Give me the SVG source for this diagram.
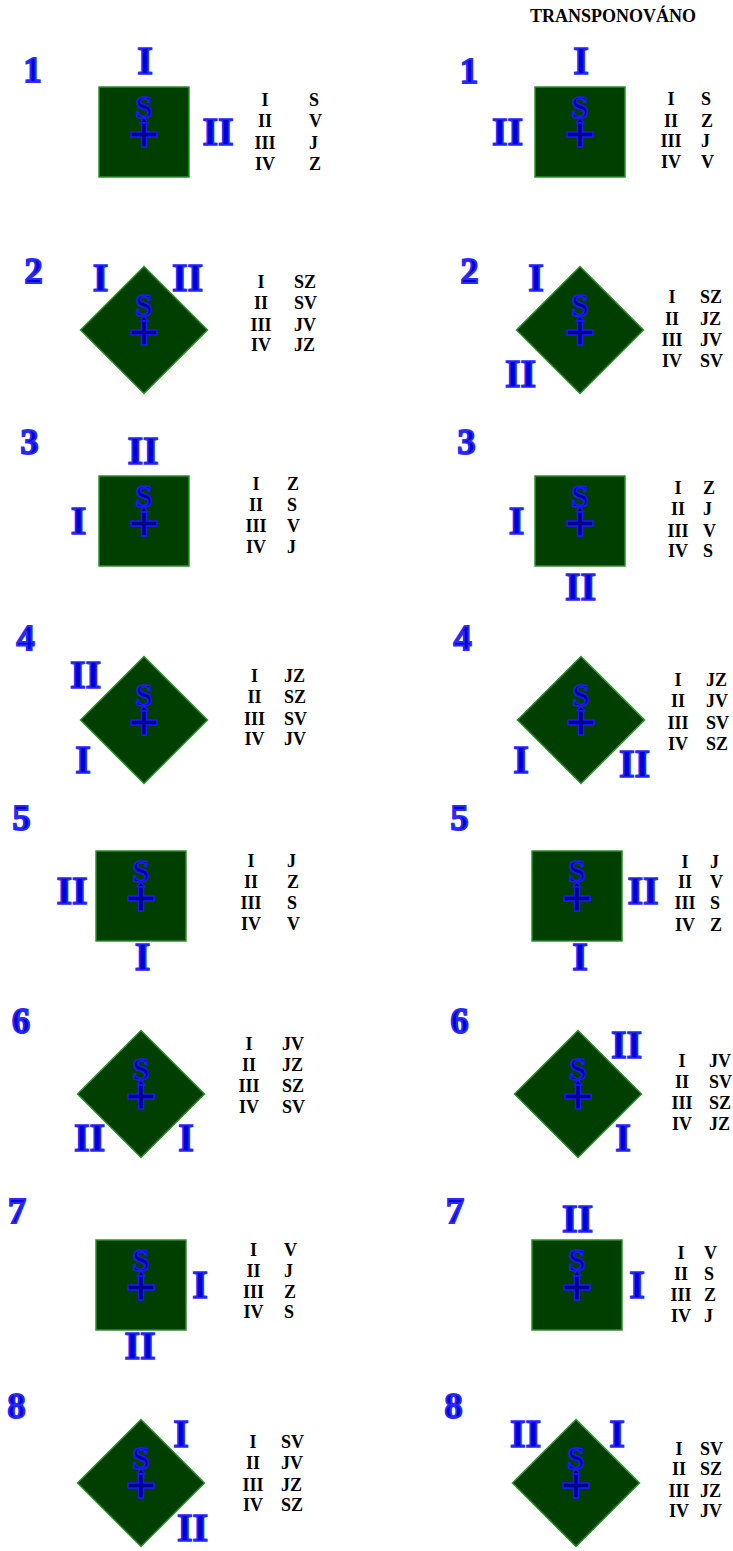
<svg xmlns="http://www.w3.org/2000/svg" xmlns:xlink="http://www.w3.org/1999/xlink" width="733" height="1551" viewBox="0 0 733 1551">
<style>
.sq{fill:#003f00;stroke:#2b8f2b;stroke-width:1.5}
.lab{font-family:"Liberation Serif","Times New Roman",serif;font-weight:bold;font-size:40px;fill:#0000d8;stroke:#2a2aff;stroke-width:1.6;text-anchor:middle}
.num{font-family:"Liberation Serif","Times New Roman",serif;font-weight:bold;font-size:36px;fill:#0000d8;stroke:#2a2aff;stroke-width:2;text-anchor:middle}
.s{font-family:"Liberation Serif","Times New Roman",serif;font-weight:bold;font-size:31px;fill:#000090;stroke:#1a1aff;stroke-width:1.5;text-anchor:middle}
.t{font-family:"Liberation Serif","Times New Roman",serif;font-weight:bold;font-size:18px;fill:#000}
.tn{text-anchor:middle}
.title{font-family:"Liberation Serif","Times New Roman",serif;font-weight:bold;font-size:18px;fill:#000}
</style>
<defs>
<g id="cross">
<polygon points="0,-14 -4,-9 4,-9" fill="#000090" stroke="#1a1aff" stroke-width="1.2"/>
<path d="M-2.5,-9 H2.5 V0 H13 V5 H2.5 V15 H-2.5 V5 H-13 V0 H-2.5 Z" fill="#000090" stroke="#1a1aff" stroke-width="1.5"/>
</g>
</defs>
<rect width="733" height="1551" fill="#fff"/>
<text class="title" x="530" y="22">TRANSPONOVÁNO</text>

<g id="p1L">
<text class="num" x="32.5" y="82">1</text>
<rect class="sq" x="99" y="87" width="90" height="90"/>
<text class="s" x="144" y="118">S</text><use xlink:href="#cross" x="144" y="132"/>
<text class="lab" x="145" y="74">I</text>
<text class="lab" x="218" y="145">II</text>
<text class="t tn" x="265" y="106">I</text><text class="t tn" x="265" y="127">II</text><text class="t tn" x="265" y="149">III</text><text class="t tn" x="265" y="170">IV</text>
<text class="t" x="309" y="106">S</text><text class="t" x="309" y="127">V</text><text class="t" x="309" y="149">J</text><text class="t" x="309" y="170">Z</text>
</g>
<g id="p1R">
<text class="num" x="469" y="83">1</text>
<rect class="sq" x="535" y="87" width="90" height="90"/>
<text class="s" x="580" y="118">S</text><use xlink:href="#cross" x="580" y="132"/>
<text class="lab" x="581" y="74">I</text>
<text class="lab" x="507.5" y="145">II</text>
<text class="t tn" x="671" y="105">I</text><text class="t tn" x="671" y="127">II</text><text class="t tn" x="671" y="147">III</text><text class="t tn" x="671" y="168">IV</text>
<text class="t" x="701" y="105">S</text><text class="t" x="701" y="127">Z</text><text class="t" x="701" y="147">J</text><text class="t" x="701" y="168">V</text>
</g>

<g id="p2L">
<text class="num" x="33.5" y="283">2</text>
<polygon class="sq" points="144,266.5 207.5,330 144,393.5 80.5,330"/>
<text class="s" x="144" y="316">S</text><use xlink:href="#cross" x="144" y="330"/>
<text class="lab" x="100.5" y="291">I</text>
<text class="lab" x="187.5" y="291">II</text>
<text class="t tn" x="261" y="288">I</text><text class="t tn" x="261" y="309">II</text><text class="t tn" x="261" y="331">III</text><text class="t tn" x="261" y="351">IV</text>
<text class="t" x="294" y="288">SZ</text><text class="t" x="294" y="309">SV</text><text class="t" x="294" y="331">JV</text><text class="t" x="294" y="351">JZ</text>
</g>
<g id="p2R">
<text class="num" x="469.5" y="283">2</text>
<polygon class="sq" points="580,266.5 643.5,330 580,393.5 516.5,330"/>
<text class="s" x="580" y="316">S</text><use xlink:href="#cross" x="580" y="330"/>
<text class="lab" x="536" y="291">I</text>
<text class="lab" x="520.5" y="387">II</text>
<text class="t tn" x="672" y="303">I</text><text class="t tn" x="672" y="325">II</text><text class="t tn" x="672" y="346">III</text><text class="t tn" x="672" y="367">IV</text>
<text class="t" x="700" y="303">SZ</text><text class="t" x="700" y="325">JZ</text><text class="t" x="700" y="346">JV</text><text class="t" x="700" y="367">SV</text>
</g>

<g id="p3L">
<text class="num" x="29.5" y="454">3</text>
<rect class="sq" x="99" y="476" width="90" height="90"/>
<text class="s" x="144" y="507">S</text><use xlink:href="#cross" x="144" y="521"/>
<text class="lab" x="143" y="464">II</text>
<text class="lab" x="78.5" y="534">I</text>
<text class="t tn" x="256" y="490">I</text><text class="t tn" x="256" y="511">II</text><text class="t tn" x="256" y="532">III</text><text class="t tn" x="256" y="553">IV</text>
<text class="t" x="287" y="490">Z</text><text class="t" x="287" y="511">S</text><text class="t" x="287" y="532">V</text><text class="t" x="287" y="553">J</text>
</g>
<g id="p3R">
<text class="num" x="466.5" y="454">3</text>
<rect class="sq" x="535" y="476" width="90" height="90"/>
<text class="s" x="580" y="507">S</text><use xlink:href="#cross" x="580" y="521"/>
<text class="lab" x="516.5" y="534">I</text>
<text class="lab" x="580.5" y="600">II</text>
<text class="t tn" x="678" y="494">I</text><text class="t tn" x="678" y="515">II</text><text class="t tn" x="678" y="537">III</text><text class="t tn" x="678" y="557">IV</text>
<text class="t" x="703" y="494">Z</text><text class="t" x="703" y="515">J</text><text class="t" x="703" y="537">V</text><text class="t" x="703" y="557">S</text>
</g>

<g id="p4L">
<text class="num" x="25.5" y="650">4</text>
<polygon class="sq" points="144,656.5 207.5,720 144,783.5 80.5,720"/>
<text class="s" x="144" y="706">S</text><use xlink:href="#cross" x="144" y="720"/>
<text class="lab" x="85.5" y="688">II</text>
<text class="lab" x="83" y="773">I</text>
<text class="t tn" x="254.5" y="682">I</text><text class="t tn" x="254.5" y="703">II</text><text class="t tn" x="254.5" y="725">III</text><text class="t tn" x="254.5" y="745">IV</text>
<text class="t" x="284" y="682">JZ</text><text class="t" x="284" y="703">SZ</text><text class="t" x="284" y="725">SV</text><text class="t" x="284" y="745">JV</text>
</g>
<g id="p4R">
<text class="num" x="462.5" y="650">4</text>
<polygon class="sq" points="581,656.5 644.5,720 581,783.5 517.5,720"/>
<text class="s" x="581" y="706">S</text><use xlink:href="#cross" x="581" y="720"/>
<text class="lab" x="521" y="773">I</text>
<text class="lab" x="634.5" y="777">II</text>
<text class="t tn" x="678" y="686">I</text><text class="t tn" x="678" y="707">II</text><text class="t tn" x="678" y="729">III</text><text class="t tn" x="678" y="750">IV</text>
<text class="t" x="706" y="686">JZ</text><text class="t" x="706" y="707">JV</text><text class="t" x="706" y="729">SV</text><text class="t" x="706" y="750">SZ</text>
</g>

<g id="p5L">
<text class="num" x="21.5" y="830">5</text>
<rect class="sq" x="96" y="851" width="90" height="90"/>
<text class="s" x="141" y="882">S</text><use xlink:href="#cross" x="141" y="896"/>
<text class="lab" x="72" y="904">II</text>
<text class="lab" x="142.5" y="970">I</text>
<text class="t tn" x="251" y="867">I</text><text class="t tn" x="251" y="888">II</text><text class="t tn" x="251" y="909">III</text><text class="t tn" x="251" y="930">IV</text>
<text class="t" x="287" y="867">J</text><text class="t" x="287" y="888">Z</text><text class="t" x="287" y="909">S</text><text class="t" x="287" y="930">V</text>
</g>
<g id="p5R">
<text class="num" x="459.5" y="830">5</text>
<rect class="sq" x="532" y="851" width="90" height="90"/>
<text class="s" x="577" y="882">S</text><use xlink:href="#cross" x="577" y="896"/>
<text class="lab" x="643" y="904">II</text>
<text class="lab" x="580" y="970">I</text>
<text class="t tn" x="685" y="868">I</text><text class="t tn" x="685" y="888">II</text><text class="t tn" x="685" y="909">III</text><text class="t tn" x="685" y="931">IV</text>
<text class="t" x="710" y="868">J</text><text class="t" x="710" y="888">V</text><text class="t" x="710" y="909">S</text><text class="t" x="710" y="931">Z</text>
</g>

<g id="p6L">
<text class="num" x="21" y="1033">6</text>
<polygon class="sq" points="141,1030.5 204.5,1094 141,1157.5 77.5,1094"/>
<text class="s" x="141" y="1080">S</text><use xlink:href="#cross" x="141" y="1094"/>
<text class="lab" x="89.5" y="1151">II</text>
<text class="lab" x="186" y="1151">I</text>
<text class="t tn" x="249" y="1050">I</text><text class="t tn" x="249" y="1071">II</text><text class="t tn" x="249" y="1092">III</text><text class="t tn" x="249" y="1113">IV</text>
<text class="t" x="282" y="1050">JV</text><text class="t" x="282" y="1071">JZ</text><text class="t" x="282" y="1092">SZ</text><text class="t" x="282" y="1113">SV</text>
</g>
<g id="p6R">
<text class="num" x="459.5" y="1033">6</text>
<polygon class="sq" points="578,1030.5 641.5,1094 578,1157.5 514.5,1094"/>
<text class="s" x="578" y="1080">S</text><use xlink:href="#cross" x="578" y="1094"/>
<text class="lab" x="626.5" y="1058">II</text>
<text class="lab" x="623" y="1151">I</text>
<text class="t tn" x="682" y="1067">I</text><text class="t tn" x="682" y="1088">II</text><text class="t tn" x="682" y="1109">III</text><text class="t tn" x="682" y="1130">IV</text>
<text class="t" x="709" y="1067">JV</text><text class="t" x="709" y="1088">SV</text><text class="t" x="709" y="1109">SZ</text><text class="t" x="709" y="1130">JZ</text>
</g>

<g id="p7L">
<text class="num" x="17" y="1223">7</text>
<rect class="sq" x="96" y="1240" width="90" height="90"/>
<text class="s" x="141" y="1271">S</text><use xlink:href="#cross" x="141" y="1285"/>
<text class="lab" x="200" y="1298">I</text>
<text class="lab" x="140" y="1359">II</text>
<text class="t tn" x="253.5" y="1256">I</text><text class="t tn" x="253.5" y="1277">II</text><text class="t tn" x="253.5" y="1298">III</text><text class="t tn" x="253.5" y="1318">IV</text>
<text class="t" x="284" y="1256">V</text><text class="t" x="284" y="1277">J</text><text class="t" x="284" y="1298">Z</text><text class="t" x="284" y="1318">S</text>
</g>
<g id="p7R">
<text class="num" x="455" y="1223">7</text>
<rect class="sq" x="532" y="1240" width="90" height="90"/>
<text class="s" x="577" y="1271">S</text><use xlink:href="#cross" x="577" y="1285"/>
<text class="lab" x="577.5" y="1232">II</text>
<text class="lab" x="637" y="1298">I</text>
<text class="t tn" x="681" y="1259">I</text><text class="t tn" x="681" y="1280">II</text><text class="t tn" x="681" y="1301">III</text><text class="t tn" x="681" y="1322">IV</text>
<text class="t" x="704" y="1259">V</text><text class="t" x="704" y="1280">S</text><text class="t" x="704" y="1301">Z</text><text class="t" x="704" y="1322">J</text>
</g>

<g id="p8L">
<text class="num" x="16.5" y="1418">8</text>
<polygon class="sq" points="141,1419.5 204.5,1483 141,1546.5 77.5,1483"/>
<text class="s" x="141" y="1469">S</text><use xlink:href="#cross" x="141" y="1483"/>
<text class="lab" x="181" y="1447">I</text>
<text class="lab" x="192.5" y="1541">II</text>
<text class="t tn" x="253" y="1448">I</text><text class="t tn" x="253" y="1469">II</text><text class="t tn" x="253" y="1491">III</text><text class="t tn" x="253" y="1511">IV</text>
<text class="t" x="281" y="1448">SV</text><text class="t" x="281" y="1469">JV</text><text class="t" x="281" y="1491">JZ</text><text class="t" x="281" y="1511">SZ</text>
</g>
<g id="p8R">
<text class="num" x="453.5" y="1418">8</text>
<polygon class="sq" points="576,1419.5 639.5,1483 576,1546.5 512.5,1483"/>
<text class="s" x="576" y="1469">S</text><use xlink:href="#cross" x="576" y="1483"/>
<text class="lab" x="525.5" y="1447">II</text>
<text class="lab" x="617" y="1447">I</text>
<text class="t tn" x="679" y="1455">I</text><text class="t tn" x="679" y="1475">II</text><text class="t tn" x="679" y="1497">III</text><text class="t tn" x="679" y="1517">IV</text>
<text class="t" x="700" y="1455">SV</text><text class="t" x="700" y="1475">SZ</text><text class="t" x="700" y="1497">JZ</text><text class="t" x="700" y="1517">JV</text>
</g>
</svg>
